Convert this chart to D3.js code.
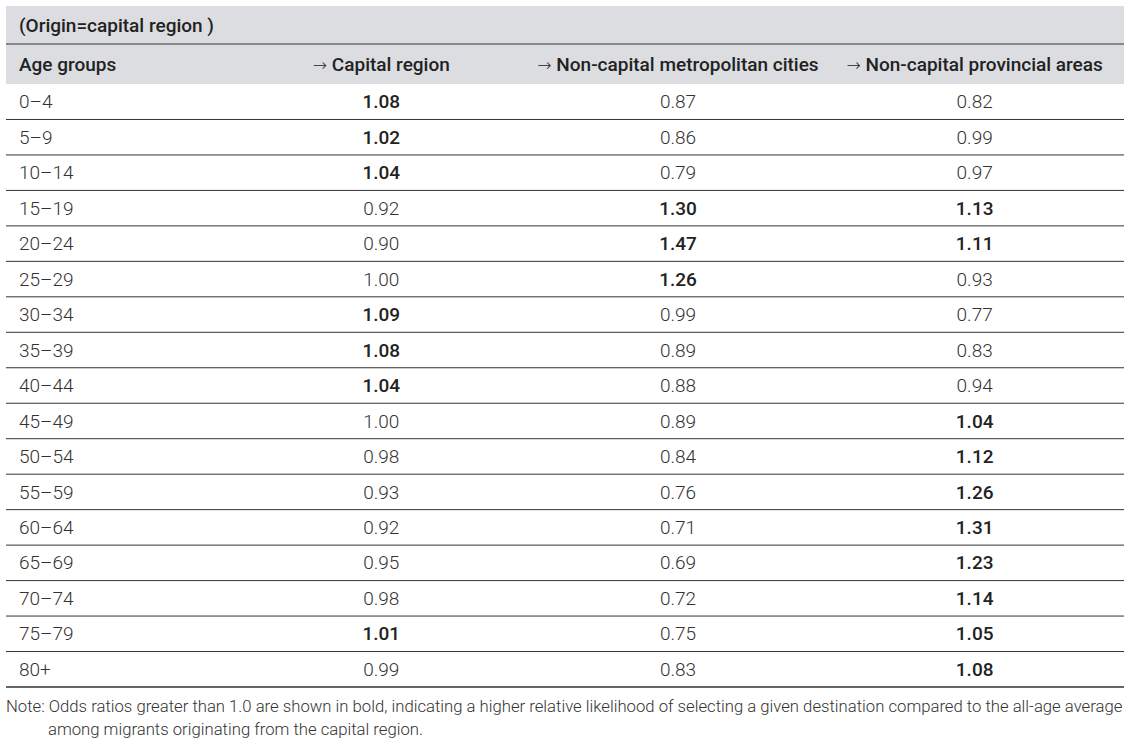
<!DOCTYPE html>
<html>
<head>
<meta charset="utf-8">
<script src="https://cdn.jsdelivr.net/npm/d3@7"></script>
<style>
  body { margin: 0; background: #fff; }
  svg text { font-family: Roboto, "Noto Sans", sans-serif; }
</style>
</head>
<body>
<svg id="chart" width="1130" height="745"></svg>
<script>
// table content ----------------------------
const title = "(Origin=capital region )";
const columns = ["Age groups", "Capital region", "Non-capital metropolitan cities", "Non-capital provincial areas"];
const ageGroups = ["0\u20134", "5\u20139", "10\u201314", "15\u201319", "20\u201324", "25\u201329", "30\u201334", "35\u201339",
  "40\u201344", "45\u201349", "50\u201354", "55\u201359", "60\u201364", "65\u201369", "70\u201374", "75\u201379", "80+"];
const capitalRegion = [1.08, 1.02, 1.04, 0.92, 0.90, 1.00, 1.09, 1.08, 1.04, 1.00, 0.98, 0.93, 0.92, 0.95, 0.98, 1.01, 0.99];
const metroCities = [0.87, 0.86, 0.79, 1.30, 1.47, 1.26, 0.99, 0.89, 0.88, 0.89, 0.84, 0.76, 0.71, 0.69, 0.72, 0.75, 0.83];
const provincialAreas = [0.82, 0.99, 0.97, 1.13, 1.11, 0.93, 0.77, 0.83, 0.94, 1.04, 1.12, 1.26, 1.31, 1.23, 1.14, 1.05, 1.08];
const noteLines = [
  "Note: Odds ratios greater than 1.0 are shown in bold, indicating a higher relative likelihood of selecting a given destination compared to the all-age average",
  "among migrants originating from the capital region."
];

const series = [capitalRegion, metroCities, provincialAreas];

const svg = d3.select('#chart');
const left = 6, right = 1124;
const titleTop = 6, headTop = 44, bodyTop = 84, bodyBottom = 687;
const fs = 19;

// scales
const y = d3.scaleBand().domain(ageGroups).range([bodyTop, bodyBottom]);
const x = d3.scaleBand().domain(d3.range(3)).range([233, 1123]);

// grey header blocks
svg.append('rect').attr('x', left).attr('y', titleTop).attr('width', right - left).attr('height', headTop - titleTop).attr('fill', '#dcdde0');
svg.append('rect').attr('x', left).attr('y', headTop).attr('width', right - left).attr('height', bodyTop - headTop).attr('fill', '#dcdde0');

svg.append('text').attr('x', 19).attr('y', (titleTop + headTop) / 2).attr('dy', '0.35em')
  .attr('font-size', fs).attr('font-weight', 500).attr('fill', '#222').text(title);

svg.append('line').attr('x1', left).attr('x2', right).attr('y1', headTop).attr('y2', headTop)
  .attr('stroke', '#333').attr('stroke-width', 1.2);

// column headers
const headBase = (headTop + bodyTop) / 2 + 0.35 * fs;
svg.append('text').attr('x', 19).attr('y', headBase)
  .attr('font-size', fs).attr('font-weight', 500).attr('fill', '#222').text(columns[0]);
const heads = svg.selectAll('.colhead').data(columns.slice(1)).join('text')
  .attr('class', 'colhead')
  .attr('x', (d, i) => x(i) + x.bandwidth() / 2)
  .attr('y', headBase)
  .attr('text-anchor', 'middle')
  .attr('font-size', fs).attr('font-weight', 500).attr('fill', '#222');
heads.append('tspan').attr('font-family', 'DejaVu Sans').attr('font-weight', 300)
  .attr('font-size', 17).text('\u2192');
heads.append('tspan').text(d => ' ' + d);

// rows
const rows = svg.selectAll('.row').data(ageGroups).join('g')
  .attr('class', 'row')
  .attr('transform', d => `translate(0,${y(d)})`);

rows.append('line').attr('x1', left).attr('x2', right)
  .attr('y1', y.bandwidth()).attr('y2', y.bandwidth())
  .attr('stroke', '#333').attr('stroke-width', (d, i) => i === ageGroups.length - 1 ? 1.3 : 1);

rows.append('text').attr('x', 19).attr('y', y.bandwidth() / 2).attr('dy', '0.35em')
  .attr('font-size', fs).attr('font-weight', 300).attr('fill', '#333').text(d => d);

rows.selectAll('.val').data((d, r) => series.map((s, c) => ({ c, v: s[r] }))).join('text')
  .attr('class', 'val')
  .attr('x', d => x(d.c) + x.bandwidth() / 2)
  .attr('y', y.bandwidth() / 2).attr('dy', '0.35em')
  .attr('text-anchor', 'middle')
  .attr('font-size', fs)
  .attr('font-weight', d => d.v > 1.0 ? 500 : 300)
  .attr('fill', d => d.v > 1.0 ? '#222' : '#333')
  .text(d => d3.format('.2f')(d.v));

// note
svg.selectAll('.note').data(noteLines).join('text')
  .attr('class', 'note')
  .attr('x', (d, i) => i === 0 ? 6 : 48)
  .attr('y', (d, i) => 706 + i * 23).attr('dy', '0.35em')
  .attr('font-size', 16.7).attr('font-weight', 300).attr('fill', '#333')
  .text(d => d);
</script>
</body>
</html>
